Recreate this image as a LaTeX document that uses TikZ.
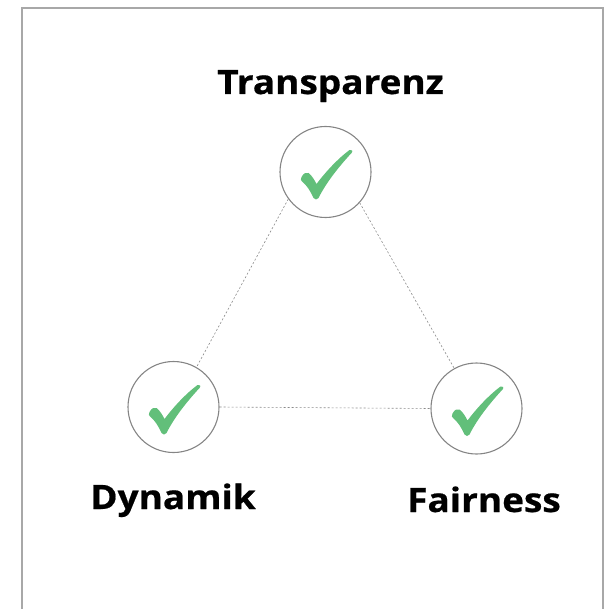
\documentclass[tikz,border=0pt]{standalone}
\usepackage{fontspec}
\setmainfont{Open Sans}[BoldFont={Open Sans Bold}, BoldFeatures={FakeStretch=1.1, FakeBold=0.6}]
\definecolor{framegray}{HTML}{A8A8A8}
\definecolor{ringgray}{HTML}{858585}
\definecolor{dashgray}{HTML}{8A8A8A}
\definecolor{checkgreen}{HTML}{62BF7A}
\tikzset{
  ring/.style={circle, draw=ringgray, line width=1.1pt, minimum size=91pt, inner sep=0pt},
  edgeline/.style={draw=dashgray, line width=0.6pt, dash pattern=on 2pt off 2pt},
  caption/.style={anchor=base, font=\fontsize{33.6}{40}\selectfont\bfseries, text=black, inner sep=0pt},
  checkmark/.pic={
    \fill[checkgreen] (-24,5) .. controls (-22,1) and (-19,0) .. (-17,1)
      .. controls (-14,3) and (-11,8) .. (-9,12)
      .. controls (0,0) and (12,-13) .. (24,-22)
      .. controls (26,-23) and (28,-21) .. (26,-19)
      .. controls (14,-6) and (1,10) .. (-7,26)
      .. controls (-8,28) and (-11,28) .. (-12,26)
      .. controls (-15,19) and (-19,13) .. (-23,10)
      .. controls (-25,9) and (-25,7) .. (-24,5) -- cycle;
  }
}
\begin{document}
\begin{tikzpicture}[x=1pt, y=-1pt]
  \useasboundingbox (0,0) rectangle (605,609);
  % outer frame, open at the bottom
  \draw[framegray, line width=1.4pt] (22,612) -- (22,8) -- (603,8) -- (603,612);

  % the three rings
  \node[ring] (t) at (325.5,172) {};
  \node[ring] (d) at (173.5,407) {};
  \node[ring] (f) at (476.5,408.5) {};

  % check marks inside the rings
  \pic at (t) {checkmark};
  \pic at (d) {checkmark};
  \pic at (f) {checkmark};

  % dotted triangle between the rings
  \draw[edgeline] (t.-144) -- (d.60);
  \draw[edgeline] (t.-42) -- (f.119);
  \draw[edgeline] (d.east) -- (f.west);

  % captions
  \node[caption] (lt) at (330.5,94) {Transparenz};
  \node[caption] (ld) at (173,509) {Dynamik};
  \node[caption] (lf) at (484,512) {Fairness};
\end{tikzpicture}
\end{document}
